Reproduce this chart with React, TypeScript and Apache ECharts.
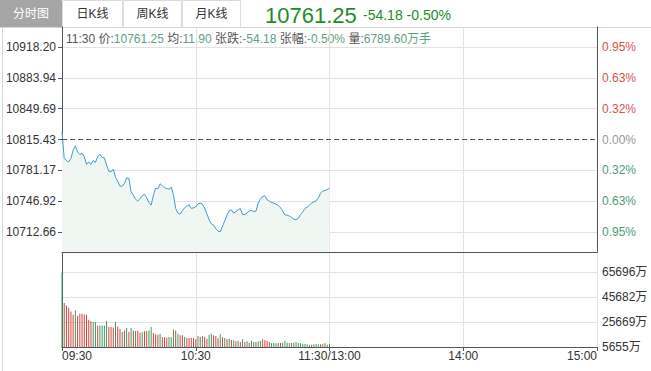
import React, { useEffect, useRef } from "react";
import * as echarts from "echarts";

const prevClose = 10815.43;
const avgValue = "11.90";
const volumeTotal = "6789.60万手";
const infoTime = "11:30";

const tabs = ["分时图", "日K线", "周K线", "月K线"];

const priceTicks = [10712.66, 10746.92, 10781.17, 10815.43, 10849.69, 10883.94, 10918.2];
const volumeTicks = [5655, 25669, 45682, 65696];
const timeTickIdx = [0, 60, 120, 180, 240];
const timeTickLabels = ["09:30", "10:30", "11:30/13:00", "14:00", "15:00"];

const prices = [
  10823.95, 10794.32, 10792.1, 10790.62, 10794.32, 10803.58, 10808.39, 10801.73, 10798.76, 10800.24,
  10796.17, 10787.65, 10790.62, 10787.65, 10792.1, 10789.87, 10796.17, 10799.13, 10795.43, 10795.06,
  10786.91, 10780.24, 10779.5, 10782.47, 10773.58, 10769.13, 10763.58, 10763.58, 10766.54, 10772.84,
  10772.1, 10757.28, 10753.58, 10749.13, 10746.91, 10749.87, 10752.84, 10754.69, 10750.62, 10745.43,
  10742.47, 10753.58, 10761.36, 10760.62, 10766.17, 10763.95, 10761.73, 10760.99, 10760.24, 10762.47,
  10753.58, 10738.76, 10733.58, 10732.47, 10736.17, 10739.5, 10741.36, 10742.84, 10738.76, 10739.5,
  10740.62, 10743.95, 10744.69, 10743.58, 10739.13, 10732.84, 10726.17, 10721.73, 10720.24, 10716.17,
  10713.58, 10712.84, 10719.13, 10725.06, 10731.36, 10736.17, 10737.28, 10733.58, 10735.43, 10737.28,
  10738.76, 10732.1, 10732.1, 10733.58, 10736.17, 10736.54, 10735.43, 10735.8, 10744.69, 10749.13,
  10752.1, 10752.84, 10748.39, 10746.91, 10745.43, 10744.69, 10743.58, 10742.1, 10739.87, 10735.8,
  10731.73, 10731.36, 10730.24, 10728.76, 10726.91, 10726.17, 10728.02, 10732.1, 10735.06, 10738.76,
  10740.24, 10742.47, 10745.06, 10746.17, 10747.28, 10750.62, 10755.8, 10758.39, 10758.76, 10759.87,
  10761.25,
];

const volumes = [
  65696, 40877, 39025, 37140, 34210, 31540, 35010, 30470, 32340, 32340,
  31820, 31540, 27510, 26470, 25670, 25670, 23000, 23000, 23000, 23000,
  26470, 21665, 21665, 21400, 25670, 22200, 20330, 17660, 18990, 20860,
  17660, 20860, 18990, 18460, 18730, 17130, 17660, 18200, 18200, 18990,
  21665, 16860, 15800, 15520, 16330, 13660, 13400, 13120, 13660, 13400,
  19800, 18990, 16330, 15000, 15000, 13660, 12860, 12860, 12860, 12860,
  11793, 14460, 13925, 14460, 13925, 12325, 15528, 16327, 14994, 14460,
  12860, 15796, 13393, 12860, 11793, 12325, 11259, 10992, 10191, 10725,
  9658, 11793, 9658, 10191, 9124, 10725, 9658, 9658, 10191, 10725,
  11793, 10992, 10725, 9658, 8857, 8857, 8591, 8857, 8857, 9124,
  10725, 9124, 8857, 8857, 9124, 9658, 8857, 8591, 8057, 8057,
  7790, 7524, 7524, 7790, 8057, 7790, 7790, 8324, 8591, 7524,
  8324,
];

// 1 = up (red), -1 = down (green)
const volumeDir = [
  -1, 1, 1, 1, 1, 1, -1, 1, 1, 1,
  1, 1, 1, 1, -1, -1, 1, -1, -1, -1,
  -1, 1, 1, 1, -1, 1, 1, -1, 1, -1,
  1, -1, 1, -1, 1, 1, -1, 1, 1, -1,
  -1, 1, 1, 1, -1, 1, 1, 1, -1, -1,
  -1, 1, -1, 1, 1, -1, 1, 1, 1, 1,
  1, -1, 1, -1, 1, 1, -1, -1, 1, 1,
  1, -1, 1, -1, 1, -1, 1, -1, 1, -1,
  1, -1, 1, -1, 1, -1, -1, 1, -1, -1,
  1, 1, 1, 1, -1, -1, -1, -1, 1, -1,
  -1, -1, -1, 1, -1, -1, -1, -1, -1, -1,
  -1, -1, 1, -1, -1, -1, 1, -1, 1, -1,
  -1,
];

const FONT = 'Arial, "Liberation Sans", "Noto Sans CJK SC", sans-serif';
const RED = "#d0463c";
const GREEN = "#3f9a62";
const LABEL_RED = "#d2554c";
const LABEL_GREEN = "#4f9a7a";
const GRID = "#e2e2e2";
const AXIS = "#555";

export default function App() {
  const ref = useRef<HTMLDivElement>(null);

  useEffect(() => {
    if (!ref.current) return;
    const chart = echarts.init(ref.current, null, { renderer: "svg" });

    const last = prices[prices.length - 1];
    const change = last - prevClose;
    const pct = (change / prevClose) * 100;
    const tickStep = (priceTicks[priceTicks.length - 1] - prevClose) / 3;
    const priceMin = prevClose - tickStep * 3.65;
    const priceMax = prevClose + tickStep * 3.65;
    const volMin = volumeTicks[0];
    const volStep = volumeTicks[1] - volumeTicks[0];
    const volMax = volumeTicks[volumeTicks.length - 1] + volStep * 0.81;

    const tabGraphics: any[] = [];
    const tabEdges = [0, 62, 123, 182, 241];
    tabs.forEach((t, i) => {
      const x0 = tabEdges[i];
      const x1 = tabEdges[i + 1];
      tabGraphics.push({
        type: "rect",
        shape: { x: x0 + 0.5, y: 0.5, width: x1 - x0 - 1, height: 27 },
        style: { fill: i === 0 ? "#a5a5a5" : "#fff", stroke: i === 0 ? "#a5a5a5" : "#dcdcdc", lineWidth: 1 },
        silent: true,
      });
      tabGraphics.push({
        type: "text",
        x: (x0 + x1) / 2,
        y: 14,
        style: {
          text: t,
          fontSize: 12,
          fontFamily: FONT,
          fill: i === 0 ? "#fff" : "#333",
          align: "center",
          verticalAlign: "middle",
        },
        silent: true,
      });
    });

    const fmt = (v: number) => v.toFixed(2);

    const option: any = {
      animation: false,
      textStyle: { fontFamily: FONT },
      grid: [
        { left: 62, top: 27, width: 535, height: 225 },
        { left: 62, top: 252, width: 535, height: 95 },
      ],
      xAxis: [
        {
          type: "value",
          gridIndex: 0,
          min: 0,
          max: 240,
          axisLine: { show: true, onZero: false, lineStyle: { color: AXIS } },
          axisTick: { show: false, customValues: timeTickIdx },
          axisLabel: { show: false, customValues: timeTickIdx },
          splitLine: { show: true, lineStyle: { color: GRID } },
        },
        {
          type: "value",
          gridIndex: 1,
          min: 0,
          max: 240,
          axisLine: { show: true, onZero: false, lineStyle: { color: AXIS } },
          axisTick: { show: true, length: 4, customValues: timeTickIdx, lineStyle: { color: AXIS } },
          axisLabel: {
            customValues: timeTickIdx,
            formatter: (v: number) => timeTickLabels[timeTickIdx.indexOf(Number(v))] ?? "",
            color: "#333",
            fontSize: 12,
            margin: 3,
            alignMinLabel: "left",
            alignMaxLabel: "right",
          },
          splitLine: { show: true, lineStyle: { color: GRID } },
        },
      ],
      yAxis: [
        {
          type: "value",
          gridIndex: 0,
          position: "left",
          min: priceMin,
          max: priceMax,
          axisLine: { show: true, lineStyle: { color: AXIS } },
          axisTick: { show: true, length: 4, customValues: priceTicks, lineStyle: { color: AXIS } },
          axisLabel: { customValues: priceTicks, formatter: fmt, color: "#333", fontSize: 12, margin: 6 },
          splitLine: {
            show: true,
            lineStyle: { color: [GRID, GRID, GRID, "rgba(0,0,0,0)", GRID, GRID, GRID] },
          },
        },
        {
          type: "value",
          gridIndex: 0,
          position: "right",
          min: priceMin,
          max: priceMax,
          axisLine: { show: true, lineStyle: { color: AXIS } },
          axisTick: { show: false, customValues: priceTicks },
          axisLabel: {
            customValues: priceTicks,
            formatter: (v: number) => Math.abs(((v - prevClose) / prevClose) * 100).toFixed(2) + "%",
            color: (v: any) => {
              const n = Number(v);
              if (n > prevClose + 0.01) return LABEL_RED;
              if (n < prevClose - 0.01) return LABEL_GREEN;
              return "#999";
            },
            fontSize: 12,
            margin: 5,
          },
          splitLine: { show: false },
        },
        {
          type: "value",
          gridIndex: 1,
          position: "right",
          min: volMin,
          max: volMax,
          startValue: volMin,
          axisLine: { show: true, lineStyle: { color: AXIS } },
          axisTick: { show: false, customValues: volumeTicks },
          axisLabel: {
            customValues: volumeTicks,
            formatter: (v: number) => Math.round(v) + "万",
            color: "#333",
            fontSize: 12,
            margin: 5,
          },
          splitLine: { show: true, lineStyle: { color: GRID } },
        },
        {
          type: "value",
          gridIndex: 1,
          position: "left",
          min: volMin,
          max: volMax,
          axisLine: { show: true, lineStyle: { color: AXIS } },
          axisTick: { show: false },
          axisLabel: { show: false },
          splitLine: { show: false },
        },
      ],
      series: [
        {
          type: "line",
          xAxisIndex: 0,
          yAxisIndex: 0,
          data: prices.map((p, i) => [i, p]),
          showSymbol: false,
          symbol: "none",
          lineStyle: { color: "#3f9cc6", width: 1 },
          areaStyle: { color: "#f0f7f3", opacity: 1 },
          markLine: {
            silent: true,
            symbol: ["none", "none"],
            label: { show: false },
            lineStyle: { color: "#555", type: [5, 3], width: 1 },
            data: [{ yAxis: prevClose }],
          },
          z: 3,
        },
        {
          type: "bar",
          xAxisIndex: 1,
          yAxisIndex: 2,
          barWidth: 1,
          clip: true,
          data: volumes.map((v, i) => ({
            value: [i, v],
            itemStyle: { color: volumeDir[i] > 0 ? RED : GREEN },
          })),
        },
      ],
      graphic: [
        ...tabGraphics,
        {
          type: "line",
          shape: { x1: 0, y1: 27.5, x2: 651, y2: 27.5 },
          style: { stroke: "#d4d4d4", lineWidth: 1 },
          silent: true,
        },
        {
          type: "line",
          shape: { x1: 2.5, y1: 27, x2: 2.5, y2: 371 },
          style: { stroke: "#d4d4d4", lineWidth: 1 },
          silent: true,
        },
        {
          type: "text",
          x: 265,
          y: 15,
          style: {
            text: last.toFixed(2),
            fontSize: 22,
            fontFamily: FONT,
            fill: "#1e8c2a",
            verticalAlign: "middle",
          },
          silent: true,
        },
        {
          type: "text",
          x: 363,
          y: 15,
          style: {
            text: change.toFixed(2) + " " + pct.toFixed(2) + "%",
            fontSize: 14,
            fontFamily: FONT,
            fill: "#1e8c2a",
            verticalAlign: "middle",
          },
          silent: true,
        },
        {
          type: "text",
          x: 66,
          y: 39,
          style: {
            text:
              `{k|${infoTime} 价:}{v|${last.toFixed(2)}} {k|均:}{v|${avgValue}} ` +
              `{k|张跌:}{v|${change.toFixed(2)}} {k|张幅:}{v|${pct.toFixed(2)}%} ` +
              `{k|量:}{v|${volumeTotal}}`,
            fontSize: 12,
            fontFamily: FONT,
            verticalAlign: "middle",
            rich: {
              k: { fill: "#555", fontSize: 12, fontFamily: FONT },
              v: { fill: "#5f9e86", fontSize: 12, fontFamily: FONT },
            },
          },
          silent: true,
        },
      ],
    };

    chart.setOption(option);
    return () => chart.dispose();
  }, []);

  return (
    <div
      ref={ref}
      style={{ position: "fixed", left: 0, top: 0, width: 651, height: 371, background: "#fff" }}
    />
  );
}
